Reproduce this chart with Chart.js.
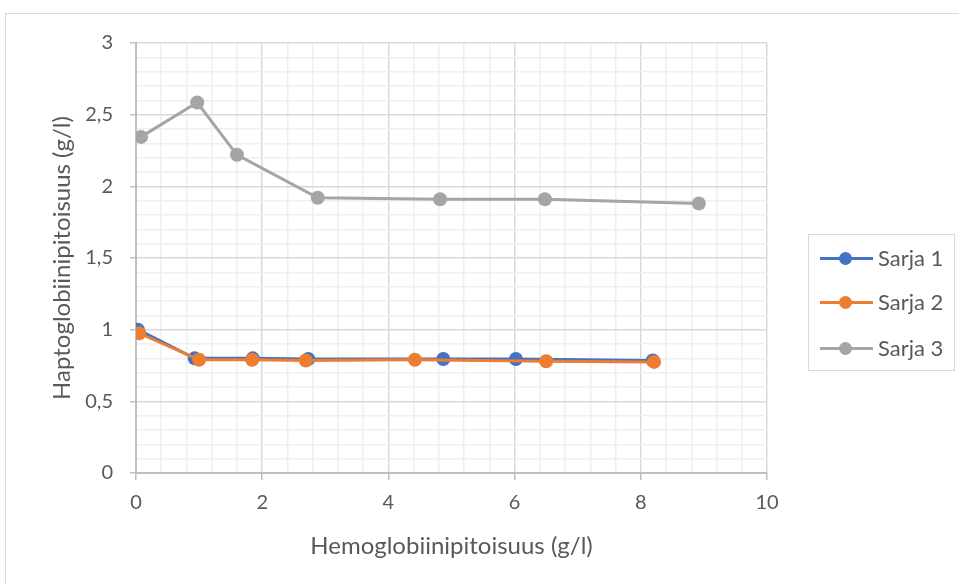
<!DOCTYPE html>
<html>
<head>
<meta charset="utf-8">
<script src="https://cdn.jsdelivr.net/npm/chart.js@4"></script>
<style>
  html, body { margin: 0; padding: 0; background: #fff; }
  #wrap { position: relative; width: 959px; height: 584px; overflow: hidden; }
  #frame { position: absolute; left: 5px; top: 13px; width: 970px; height: 600px; border: 1px solid #d9d9d9; box-sizing: border-box; }
  canvas { position: absolute; left: 0; top: 0; }
  #legend { position: absolute; left: 808px; top: 234px; width: 147px; height: 137px; border: 1px solid #d9d9d9; box-sizing: border-box;
            font-family: Lato, "Open Sans", sans-serif; font-size: 22px; color: #595959; }
  .item { position: absolute; left: 11px; height: 21px; }
  .item .ln { position: absolute; left: 0; top: 9px; width: 53px; height: 3px; }
  .item .dot { position: absolute; left: 19px; top: 4px; width: 13px; height: 13px; border-radius: 50%; }
  .item .tx { position: absolute; left: 58px; top: -3px; line-height: 26px; white-space: nowrap; }
</style>
</head>
<body>
<div id="wrap">
  <div id="frame"></div>
  <canvas id="chart" width="959" height="584"></canvas>
  <div id="legend"></div>
</div>
<script>
const seriesNames = ["Sarja 1", "Sarja 2", "Sarja 3"]
const seriesColors = ["#4472C4", "#ED7D31", "#A5A5A5"]

// hemoglobin (x) and haptoglobin (y)
const sarja1X = [0.03, 0.93, 1.85, 2.73, 4.87, 6.02, 8.19]
const sarja1Y = [1.0, 0.80, 0.80, 0.795, 0.795, 0.795, 0.785]
const sarja2X = [0.05, 1.0, 1.84, 2.69, 4.42, 6.5, 8.21]
const sarja2Y = [0.975, 0.79, 0.79, 0.785, 0.79, 0.78, 0.775]
const sarja3X = [0.08, 0.97, 1.6, 2.88, 4.82, 6.48, 8.92]
const sarja3Y = [2.345, 2.585, 2.22, 1.92, 1.91, 1.91, 1.88]

const xTitle = "Hemoglobiinipitoisuus (g/l)"
const yTitle = "Haptoglobiinipitoisuus (g/l)"

const xs = [sarja1X, sarja2X, sarja3X]
const ys = [sarja1Y, sarja2Y, sarja3Y]

const datasets = seriesNames.map((name, k) => ({
    label: name,
    data: xs[k].map((x, i) => ({ x: x, y: ys[k][i] })),
    showLine: true,
    borderColor: seriesColors[k],
    backgroundColor: seriesColors[k],
    borderWidth: 3,
    pointRadius: 7,
    pointHoverRadius: 7,
    pointBorderWidth: 0,
    tension: 0
}))
// Sarja 2 is drawn over Sarja 1
datasets[0].order = 3
datasets[1].order = 2
datasets[2].order = 1

function isMajor(v, step) {
    return Math.abs(v / step - Math.round(v / step)) < 1e-6
}

const font = { family: "Lato, 'Open Sans', sans-serif" }

new Chart(document.getElementById("chart"), {
    type: "scatter",
    data: { datasets: datasets },
    options: {
        responsive: false,
        animation: false,
        layout: { padding: { left: 40, right: 192, top: 43, bottom: 0 } },
        plugins: {
            legend: { display: false },
            tooltip: { enabled: false }
        },
        scales: {
            x: {
                type: "linear",
                min: 0, max: 10,
                ticks: {
                    stepSize: 0.4,
                    autoSkip: false,
                    maxRotation: 0,
                    color: "#595959",
                    font: { ...font, size: 20 },
                    padding: 11,
                    callback: v => isMajor(v, 2) ? String(Math.round(v)) : ""
                },
                grid: {
                    color: c => isMajor(c.tick.value, 2) ? "#d9d9d9" : "#efefef",
                    tickColor: c => isMajor(c.tick.value, 2) ? "#bfbfbf" : "rgba(0,0,0,0)",
                    tickLength: 7,
                    lineWidth: 1.5
                },
                border: { color: "#bfbfbf", width: 2 },
                title: {
                    display: true,
                    text: xTitle,
                    color: "#595959",
                    font: { ...font, size: 24 },
                    padding: { top: 0, bottom: 23 }
                },
                afterFit: s => { s.height = 111 }
            },
            y: {
                type: "linear",
                min: 0, max: 3,
                ticks: {
                    stepSize: 0.1,
                    autoSkip: false,
                    color: "#595959",
                    font: { ...font, size: 20 },
                    padding: 17,
                    callback: v => isMajor(v, 0.5) ? String(Math.round(v * 10) / 10).replace(".", ",") : ""
                },
                grid: {
                    color: c => isMajor(c.tick.value, 0.5) ? "#d9d9d9" : "#efefef",
                    tickColor: c => isMajor(c.tick.value, 0.5) ? "#bfbfbf" : "rgba(0,0,0,0)",
                    tickLength: 6,
                    lineWidth: 1.5
                },
                border: { color: "#bfbfbf", width: 2 },
                title: {
                    display: true,
                    text: yTitle,
                    color: "#595959",
                    font: { ...font, size: 24 },
                    padding: { top: 8, bottom: 0 }
                },
                afterFit: s => { s.width = 96 }
            }
        }
    }
})

// legend as in the original: line with a dot, inside a light box
const legend = document.getElementById("legend")
const legendTops = [13, 57, 103]
seriesNames.forEach((name, k) => {
    const item = document.createElement("div")
    item.className = "item"
    item.style.top = legendTops[k] + "px"
    item.innerHTML =
        '<div class="ln" style="background:' + seriesColors[k] + '"></div>' +
        '<div class="dot" style="background:' + seriesColors[k] + '"></div>' +
        '<span class="tx">' + name + '</span>'
    legend.appendChild(item)
})
</script>
</body>
</html>
